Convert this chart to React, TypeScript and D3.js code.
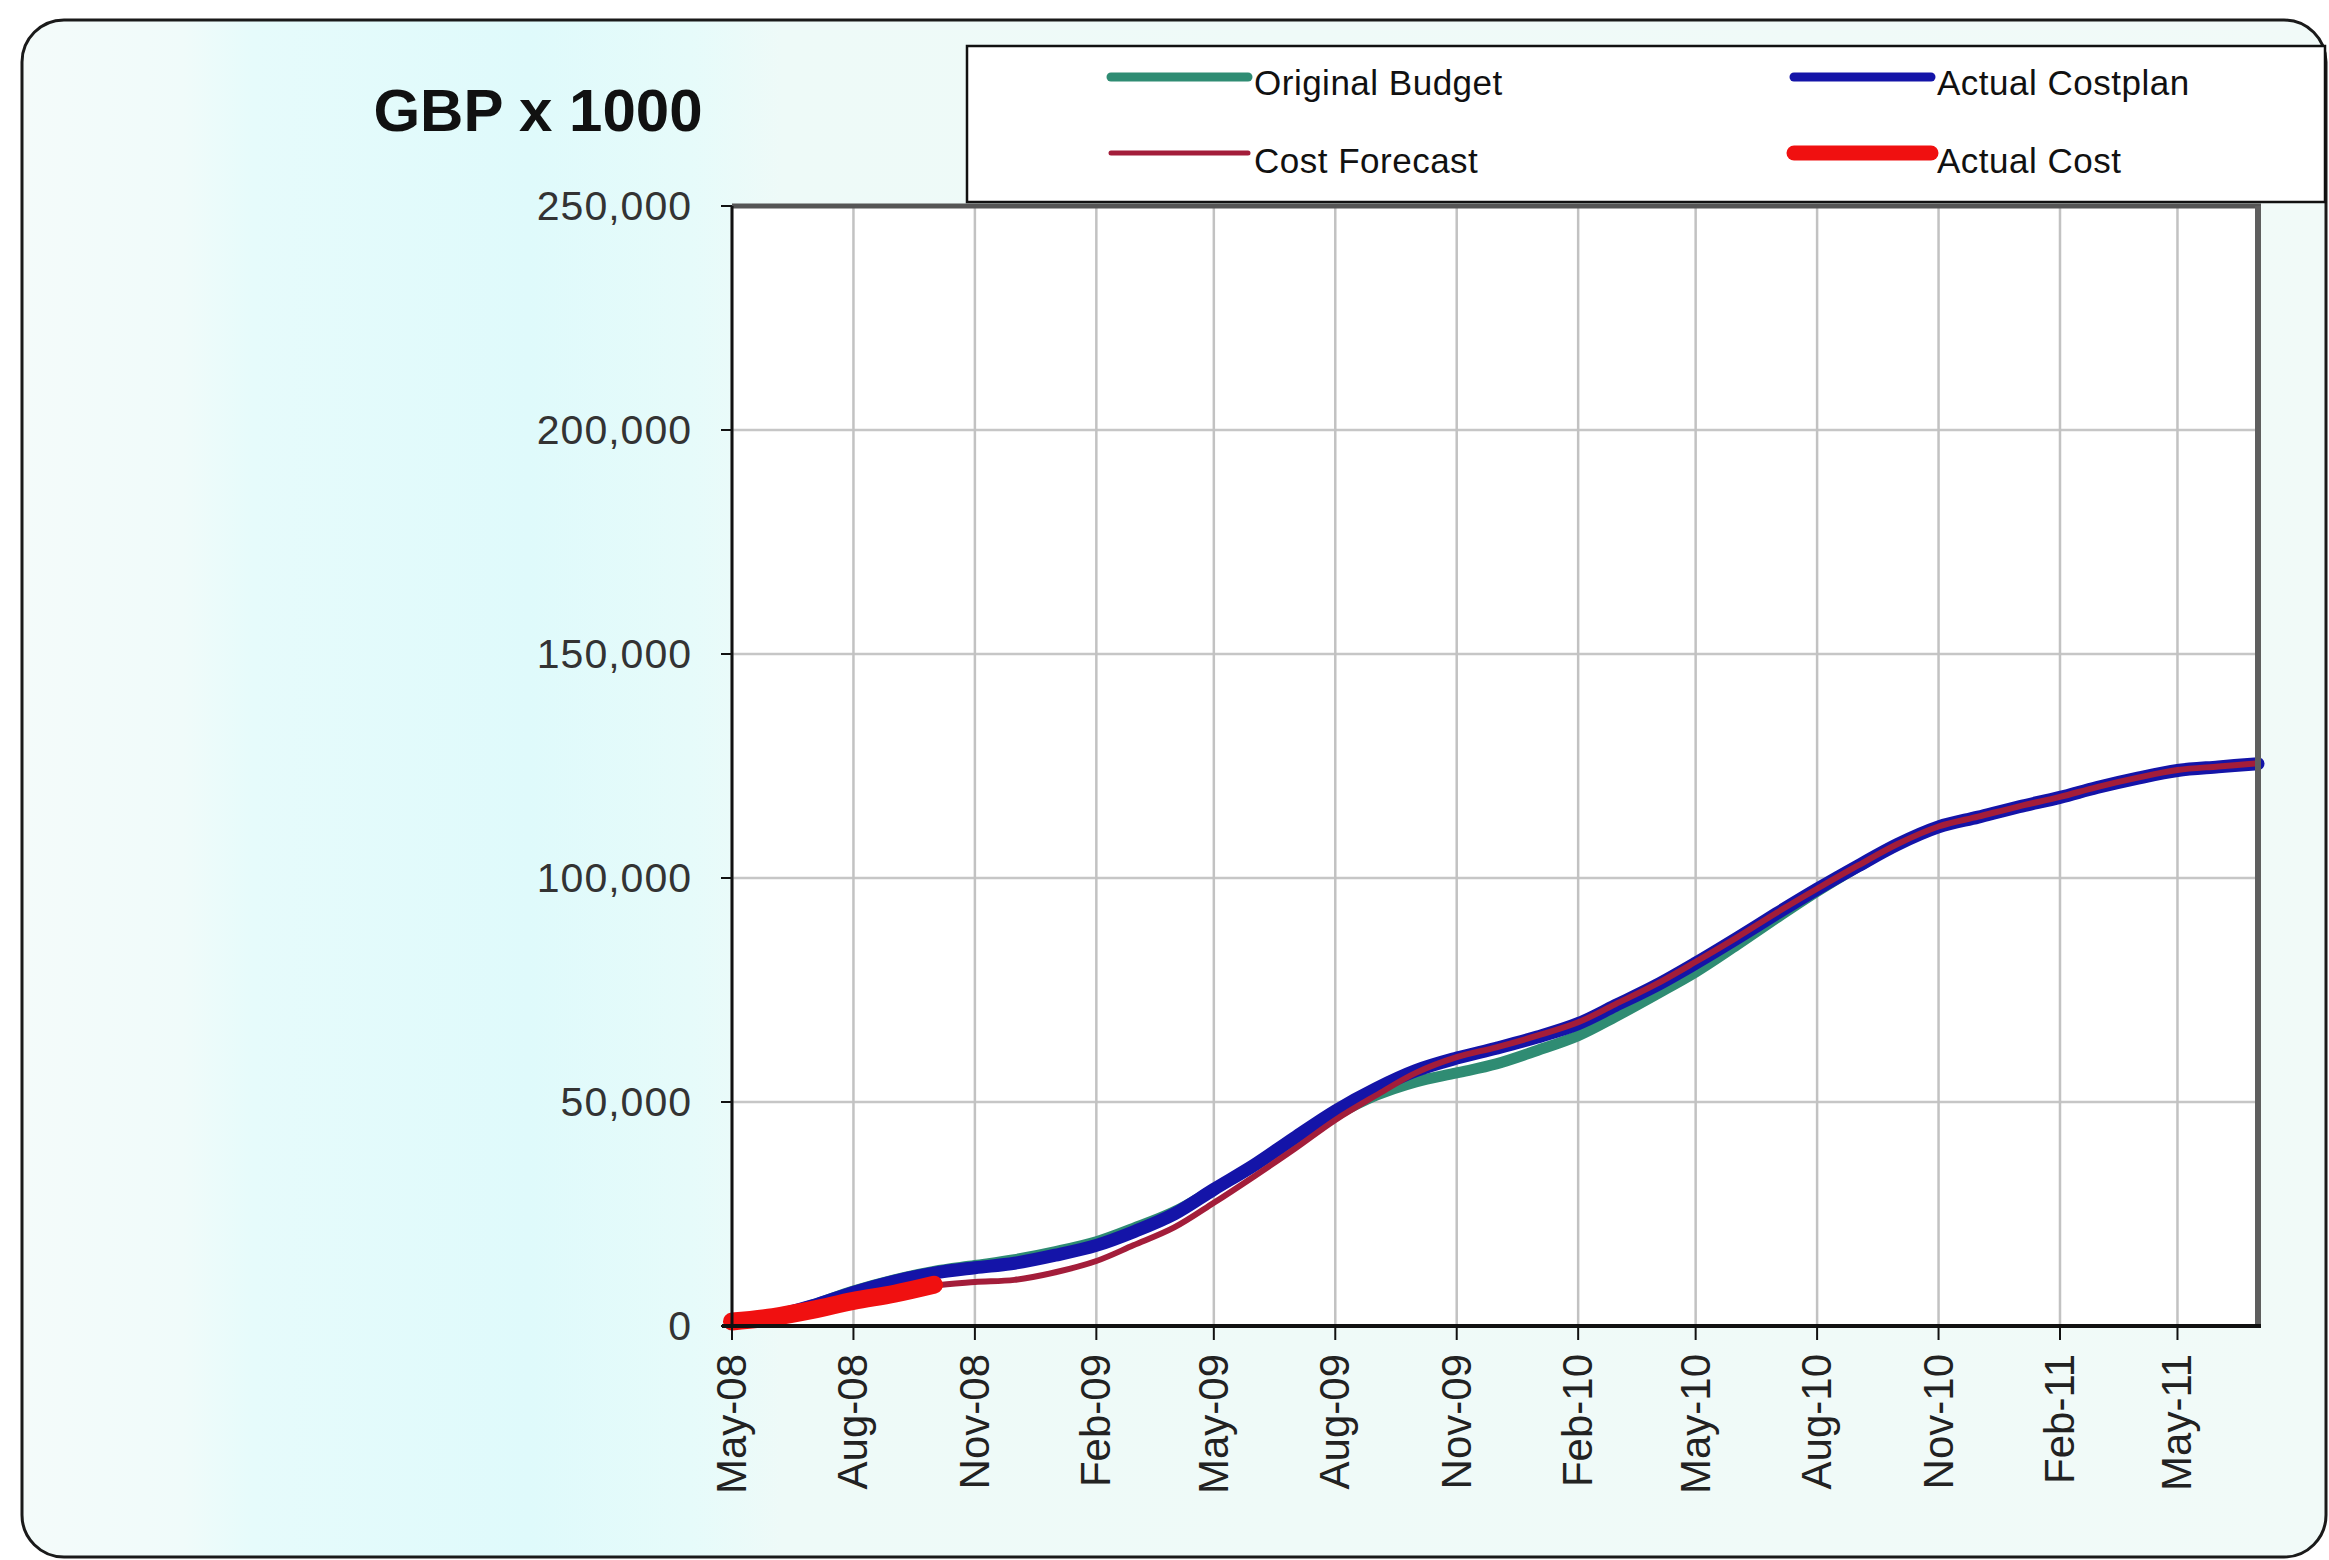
import { useEffect } from "react";
import { scaleTime, scaleLinear, line as d3line, curveCatmullRom, timeParse } from "d3";

// monthly points, May-08 .. Jul-11
const months = [
  "May-08", "Jun-08", "Jul-08", "Aug-08", "Sep-08", "Oct-08", "Nov-08", "Dec-08",
  "Jan-09", "Feb-09", "Mar-09", "Apr-09", "May-09", "Jun-09", "Jul-09", "Aug-09",
  "Sep-09", "Oct-09", "Nov-09", "Dec-09", "Jan-10", "Feb-10", "Mar-10", "Apr-10",
  "May-10", "Jun-10", "Jul-10", "Aug-10", "Sep-10", "Oct-10", "Nov-10", "Dec-10",
  "Jan-11", "Feb-11", "Mar-11", "Apr-11", "May-11", "Jun-11", "Jul-11",
];

const originalBudget = [
  800, 2300, 4700, 7800, 10300, 12200, 13500, 14800, 16600, 18800, 21800, 25500,
  30500, 35800, 41500, 47000, 51500, 54500, 56500, 58500, 61500, 64800, 69000, 74000,
  79000, 85000, 91000, 97000, 102500, 107500, 111400, 113600, 115900, 118000, 120200,
  122300, 124000, 124800, 125500,
];

const actualCostplan = [
  800, 2200, 4500, 7500, 10000, 11800, 13000, 14000, 15800, 18000, 21000, 25000,
  30500, 36000, 42000, 48000, 53000, 57000, 59800, 62000, 64500, 67500, 71500, 76000,
  81000, 86500, 92000, 97500, 102700, 107500, 111400, 113600, 115900, 118000, 120200,
  122300, 124000, 124800, 125500,
];

const costForecast = [
  800, 2000, 3800, 5500, 7000, 9000, 9800, 10300, 12000, 14500, 18000, 22000,
  27500, 33500, 39500, 46000, 51500, 56500, 60000, 62200, 64800, 67800, 71800, 76300,
  81300, 86700, 92200, 97600, 102800, 107600, 111500, 113700, 116000, 118100, 120300,
  122400, 124100, 124900, 125600,
];

// actual cost only runs to Oct-08
const actualCost = [1000, 2000, 3600, 5600, 7200, 9200];

const xTickLabels = [
  "May-08", "Aug-08", "Nov-08", "Feb-09", "May-09", "Aug-09", "Nov-09",
  "Feb-10", "May-10", "Aug-10", "Nov-10", "Feb-11", "May-11",
];
const yTicks = [0, 50000, 100000, 150000, 200000, 250000];

const legendItems = [
  { name: "Original Budget", color: "#2f8c73", width: 9 },
  { name: "Actual Costplan", color: "#1414a8", width: 9 },
  { name: "Cost Forecast", color: "#a31d3a", width: 5 },
  { name: "Actual Cost", color: "#f01010", width: 15 },
];

const W = 2329;
const H = 1560;
const font = "'Liberation Sans', Arial, sans-serif";

export default function App() {
  useEffect(() => {
    document.body.style.margin = "0";
  }, []);

  const parse = timeParse("%b-%y");
  const dates = months.map((m) => parse(m) as Date);

  const left = 732;
  const right = 2258;
  const top = 206;
  const bottom = 1326;

  const x = scaleTime().domain([dates[0], dates[dates.length - 1]]).range([left, right]);
  const y = scaleLinear().domain([0, 250000]).range([bottom, top]);

  const path = (vals: number[]) =>
    d3line<number>()
      .x((_, i) => x(dates[i]))
      .y((v) => y(v))
      .curve(curveCatmullRom.alpha(0.5))(vals) ?? undefined;

  const fmt = (v: number) => v.toLocaleString("en-US");

  return (
    <svg width={W} height={H} style={{ position: "absolute", left: 0, top: 0, background: "#fff" }}>
      <defs>
        <linearGradient id="panelBg" x1="0" x2="1" y1="0" y2="0">
          <stop offset="0%" stopColor="#f4fbfa" />
          <stop offset="7%" stopColor="#f0fbfa" />
          <stop offset="10%" stopColor="#e6fbfb" />
          <stop offset="22%" stopColor="#dffafb" />
          <stop offset="29%" stopColor="#e6fbfa" />
          <stop offset="33%" stopColor="#eefaf8" />
          <stop offset="100%" stopColor="#f1faf8" />
        </linearGradient>
      </defs>

      {/* outer rounded panel */}
      <rect x={22} y={20} width={2304} height={1537} rx={42} fill="url(#panelBg)" stroke="#1a1a1a" strokeWidth={3} />

      {/* title */}
      <text x={538} y={131} textAnchor="middle" fontFamily={font} fontWeight="bold" fontSize={60} fill="#111">
        GBP x 1000
      </text>

      {/* plot area */}
      <rect x={left} y={top} width={right - left} height={bottom - top} fill="#fff" />

      {/* gridlines */}
      {yTicks.map((t) => (
        <line key={"gy" + t} x1={left} x2={right} y1={y(t)} y2={y(t)} stroke="#c6c6c6" strokeWidth={2.5} />
      ))}
      {xTickLabels.map((lab) => {
        const xx = x(parse(lab) as Date);
        return <line key={"gx" + lab} x1={xx} x2={xx} y1={top} y2={bottom} stroke="#c2c2c2" strokeWidth={2.5} />;
      })}

      {/* series */}
      <g fill="none" strokeLinecap="round" strokeLinejoin="round">
        <path d={path(originalBudget)} stroke={legendItems[0].color} strokeWidth={11} />
        <path d={path(actualCostplan)} stroke={legendItems[1].color} strokeWidth={13} />
        <path d={path(costForecast)} stroke={legendItems[2].color} strokeWidth={6} />
        <path d={path(actualCost)} stroke={legendItems[3].color} strokeWidth={18} />
      </g>

      {/* frame */}
      <line x1={left} x2={right + 3} y1={top} y2={top} stroke="#555" strokeWidth={5} />
      <line x1={right} x2={right} y1={top} y2={bottom} stroke="#5e5e5e" strokeWidth={6} />
      <line x1={left} x2={left} y1={top} y2={bottom + 2} stroke="#111" strokeWidth={3} />
      <line x1={left - 10} x2={right + 3} y1={bottom} y2={bottom} stroke="#111" strokeWidth={4} />

      {/* y axis */}
      {yTicks.map((t) => (
        <g key={"yt" + t}>
          <line x1={left - 11} x2={left} y1={y(t)} y2={y(t)} stroke="#111" strokeWidth={2} />
          <text
            x={692}
            y={y(t) + 14}
            textAnchor="end"
            fontFamily={font}
            fontSize={41}
            fill="#333"
            letterSpacing={1}
          >
            {fmt(t)}
          </text>
        </g>
      ))}

      {/* x axis */}
      {xTickLabels.map((lab) => {
        const xx = x(parse(lab) as Date);
        return (
          <g key={"xt" + lab}>
            <line x1={xx} x2={xx} y1={bottom} y2={bottom + 14} stroke="#111" strokeWidth={2} />
            <text
              transform={`translate(${xx + 14},${1354}) rotate(-90)`}
              textAnchor="end"
              fontFamily={font}
              fontSize={42}
              fill="#222"
            >
              {lab}
            </text>
          </g>
        );
      })}

      {/* legend */}
      <rect x={967} y={46} width={1358} height={156} fill="#fff" stroke="#111" strokeWidth={2.5} />
      {legendItems.map((it, i) => {
        const col = i % 2;
        const row = Math.floor(i / 2);
        const lx = col === 0 ? 1111 : 1794;
        const ly = row === 0 ? 77 : 153;
        return (
          <g key={it.name}>
            <line x1={lx} x2={lx + 137} y1={ly} y2={ly} stroke={it.color} strokeWidth={it.width} strokeLinecap="round" />
            <text x={lx + 143} y={ly + 18 + (row === 1 ? 2 : 0)} fontFamily={font} fontSize={35} fill="#111" letterSpacing={0.5}>
              {it.name}
            </text>
          </g>
        );
      })}
    </svg>
  );
}
